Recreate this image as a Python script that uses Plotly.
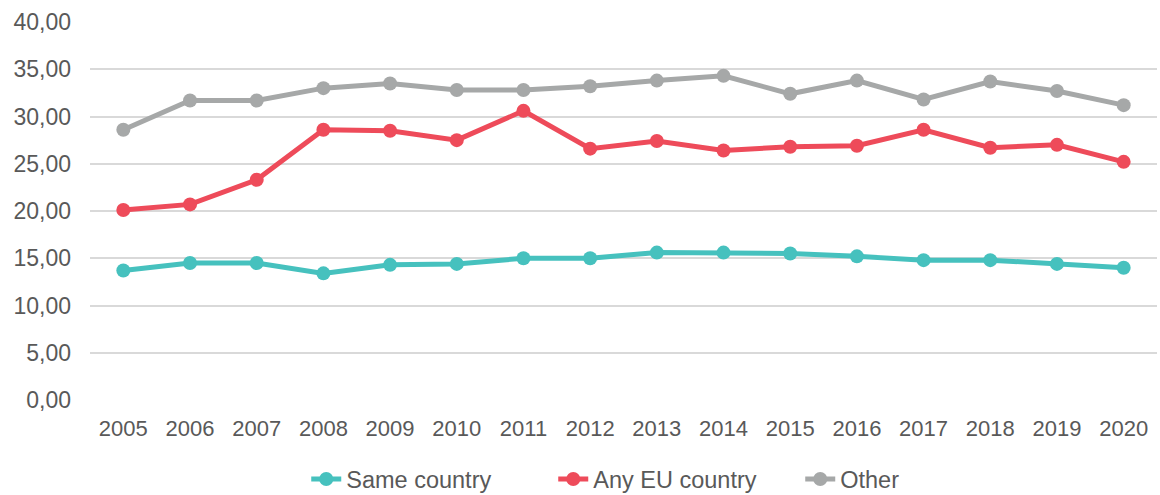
import plotly.graph_objects as go

years = [str(y) for y in range(2005, 2021)]

same_country = [13.7, 14.5, 14.5, 13.4, 14.3, 14.4, 15.0, 15.0, 15.6, 15.6,
                15.5, 15.2, 14.8, 14.8, 14.4, 14.0]
any_eu_country = [20.1, 20.7, 23.3, 28.6, 28.5, 27.5, 30.6, 26.6, 27.4, 26.4,
                  26.8, 26.9, 28.6, 26.7, 27.0, 25.2]
other = [28.6, 31.7, 31.7, 33.0, 33.5, 32.8, 32.8, 33.2, 33.8, 34.3,
         32.4, 33.8, 31.8, 33.7, 32.7, 31.2]

y_ticks = [0, 5, 10, 15, 20, 25, 30, 35, 40]

series = [
    ("Same country", same_country, "#46C1BE"),
    ("Any EU country", any_eu_country, "#EE4B5A"),
    ("Other", other, "#A6A8A8"),
]

fig = go.Figure()
for name, values, color in series:
    fig.add_trace(go.Scatter(
        x=years, y=values, name=name, mode="lines+markers",
        line=dict(color=color, width=5),
        marker=dict(color=color, size=14),
    ))

font_color = "#595959"
fig.update_layout(
    width=1160, height=495,
    margin=dict(l=90, r=3, t=22, b=95, autoexpand=False),
    paper_bgcolor="white", plot_bgcolor="white",
    font=dict(family="Liberation Sans, Arial, sans-serif", size=22, color=font_color),
    separators=",.",
    showlegend=True,
    legend=dict(orientation="h", xref="container", x=0.264, xanchor="left",
                yref="container", y=0.032, yanchor="middle",
                font=dict(size=23.5, color=font_color),
                entrywidth=202, entrywidthmode="pixels",
                bgcolor="rgba(0,0,0,0)"),
    xaxis=dict(type="category", range=[-0.5, 15.5], showgrid=False,
               showline=False, zeroline=False, ticks="",
               ticklabelstandoff=13,
               tickfont=dict(size=22, color=font_color)),
    yaxis=dict(range=[0, 40], tickvals=y_ticks, tickformat=".2f",
               showgrid=True, gridcolor="#D9D9D9", gridwidth=1.5,
               zeroline=False, showline=False, ticks="",
               ticklabelstandoff=18,
               tickfont=dict(size=23, color=font_color)),
)

fig.write_html("out.html")
